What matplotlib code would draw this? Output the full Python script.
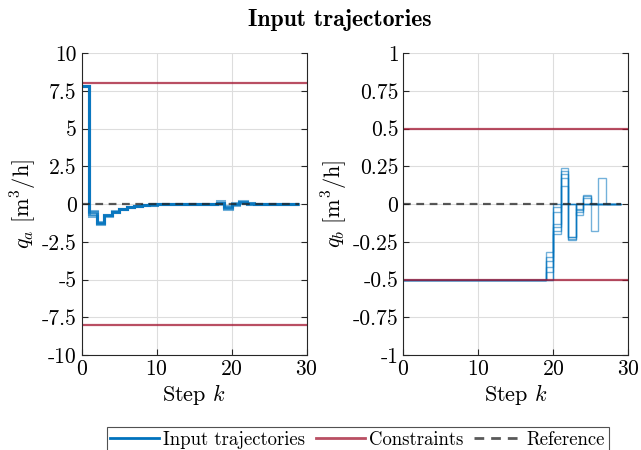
#!/usr/bin/env python3

import matplotlib
matplotlib.use("Agg")
import matplotlib.pyplot as plt
import numpy as np

plt.rcParams["font.family"] = "cmr10"
plt.rcParams["mathtext.fontset"] = "cm"
plt.rcParams["axes.unicode_minus"] = False
plt.rcParams["axes.formatter.use_mathtext"] = True

# step edges 0..29
edges = list(range(30))

# input a trajectories (values on steps 0..28)
qa_runs = [
    [7.8, -0.45, -1.25, -0.75, -0.5, -0.33, -0.2, -0.1, -0.06, -0.04, -0.02, -0.01, 0, 0, 0,
     0, 0, 0, 0.1, -0.2, 0.0, 0.15, 0.05, 0, 0, 0, 0, 0, 0],
    [7.8, -0.65, -1.3, -0.8, -0.55, -0.35, -0.2, -0.12, -0.07, -0.04, -0.02, -0.01, 0, 0, 0,
     0, 0, 0, 0.0, -0.3, 0.05, 0.1, 0.0, 0, 0, 0, 0, 0, 0],
    [7.8, -0.8, -1.25, -0.7, -0.5, -0.3, -0.18, -0.1, -0.05, -0.03, -0.02, -0.01, 0, 0, 0,
     0, 0, 0, 0.2, -0.1, -0.05, 0.2, 0.05, 0, 0, 0, 0, 0, 0],
    [7.8, -0.55, -1.2, -0.75, -0.48, -0.32, -0.2, -0.1, -0.06, -0.03, -0.02, -0.01, 0, 0, 0,
     0, 0, 0, 0.05, -0.25, 0.02, 0.12, 0.03, 0, 0, 0, 0, 0, 0],
]

# input b trajectories
qb_runs = [
    [-0.5] * 19 + [-0.5, -0.02, 0.24, -0.23, -0.05, 0.06, -0.18, 0.17, 0.0, 0.0],
    [-0.5] * 19 + [-0.32, -0.2, 0.22, -0.22, -0.03, 0.05, 0.0, 0.0, 0.0, 0.0],
    [-0.5] * 19 + [-0.35, -0.13, 0.2, 0.0, -0.07, 0.04, 0.0, 0.0, 0.0, 0.0],
    [-0.5] * 19 + [-0.38, -0.15, 0.17, -0.24, 0.0, 0.0, 0.0, 0.0, 0.0, 0.0],
    [-0.5] * 19 + [-0.42, -0.18, 0.12, 0.0, -0.04, 0.0, 0.0, 0.0, 0.0, 0.0],
    [-0.5] * 19 + [-0.45, -0.05, 0.0, -0.22, 0.0, 0.0, 0.0, 0.0, 0.0, 0.0],
    [-0.5] * 19 + [-0.5, 0.0, 0.0, 0.0, 0.0, 0.0, 0.0, 0.0, 0.0, 0.0],
]

reference = [0] * 30
qa_limits = [8, -8]
qb_limits = [0.5, -0.5]

qa_ticks = [-10, -7.5, -5, -2.5, 0, 2.5, 5, 7.5, 10]
qa_labels = ["-10", "-7.5", "-5", "-2.5", "0", "2.5", "5", "7.5", "10"]
qb_ticks = [-1, -0.75, -0.5, -0.25, 0, 0.25, 0.5, 0.75, 1]
qb_labels = ["-1", "-0.75", "-0.5", "-0.25", "0", "0.25", "0.5", "0.75", "1"]

blue = "#0072BD"
red = "#A2142F"

fig = plt.figure()
fig.set_size_inches(6.41, 4.5)
ax1 = fig.add_axes([0.1275, 0.2111, 0.351, 0.671])
ax2 = fig.add_axes([0.629, 0.2111, 0.351, 0.671])

panels = [
    (ax1, qa_runs, qa_limits, qa_ticks, qa_labels, (-10, 10),
     r"$q_a\ [\mathrm{m}^3/\mathrm{h}]$", 2.2),
    (ax2, qb_runs, qb_limits, qb_ticks, qb_labels, (-1, 1),
     r"$q_b\ [\mathrm{m}^3/\mathrm{h}]$", 1.0),
]

for ax, runs, lims, ticks, labels, ylim, ylab, lw in panels:
    for run in runs:
        ax.stairs(run, edges, baseline=None, color=blue, alpha=0.55, lw=lw)
    for lim in lims:
        ax.axhline(lim, color=red, alpha=0.75, lw=1.6)
    ax.plot(edges, reference, color="#222222", alpha=0.75, lw=1.6, ls=(0, (3.5, 2.5)))
    ax.set_xlim(0, 30)
    ax.set_ylim(*ylim)
    ax.set_xticks([0, 10, 20, 30])
    ax.set_yticks(ticks)
    ax.set_yticklabels(labels)
    ax.grid(True, color="#dddddd", lw=0.8)
    ax.set_axisbelow(True)
    ax.spines["top"].set_visible(False)
    for s in ["left", "right", "bottom"]:
        ax.spines[s].set_color("#262626")
        ax.spines[s].set_linewidth(0.8)
    ax.tick_params(direction="in", length=4, width=0.8, right=True, labelsize=15.5,
                   colors="#262626", labelcolor="black")
    ax.set_xlabel(r"Step $k$", fontsize=16, labelpad=2)
    ax.set_ylabel(ylab, fontsize=16, labelpad=2)

fig.text(0.53, 0.955, "Input trajectories", family="cmb10", fontsize=17,
         ha="center", va="center")

handles = [
    plt.Line2D([], [], color=blue, lw=2),
    plt.Line2D([], [], color=red, alpha=0.75, lw=2),
    plt.Line2D([], [], color="#222222", alpha=0.75, lw=2, ls=(0, (3.5, 2.5))),
]
leg = fig.legend(handles, ["Input trajectories", "Constraints", "Reference"],
                 loc="upper center", bbox_to_anchor=(0.558, 0.051), ncol=3,
                 fontsize=13.5, frameon=True, fancybox=False, edgecolor="#262626",
                 handlelength=2.6, handletextpad=0.2, columnspacing=0.6,
                 borderpad=0.2, borderaxespad=0)
leg.get_frame().set_linewidth(0.8)

fig.savefig("out.png", dpi=100)
